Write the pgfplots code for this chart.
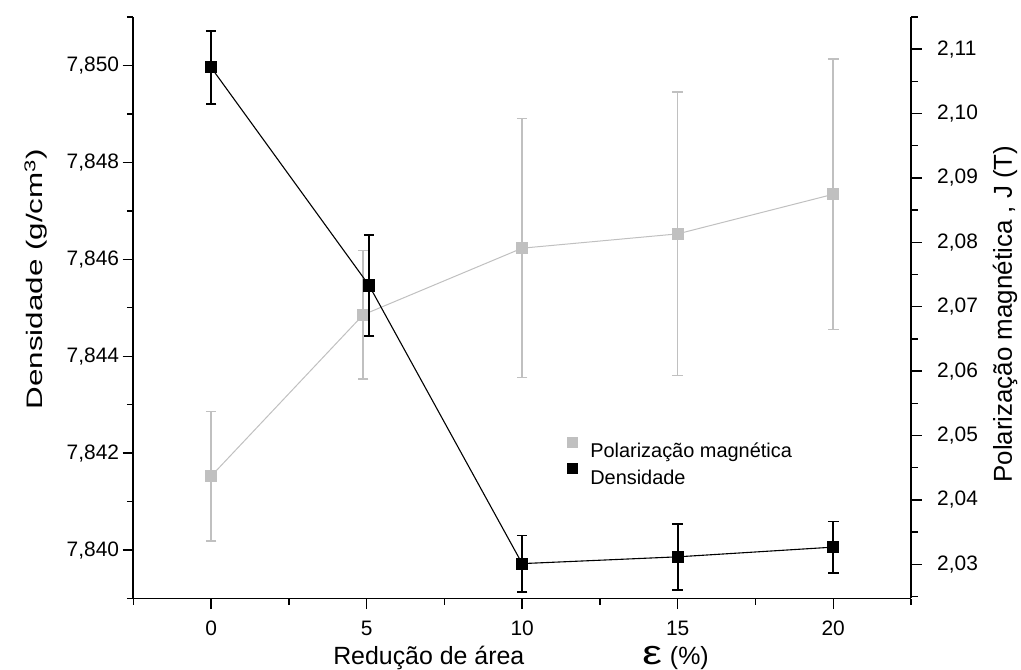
\documentclass[border=0pt]{standalone}
\usepackage{fontspec}
\setmainfont{Liberation Sans}
\usepackage{graphicx}
\usepackage{pgfplots}
\pgfplotsset{compat=1.18}

\definecolor{pgray}{RGB}{192,192,192}

\pgfplotsset{
  common/.style={
    scale only axis, width=777.7bp, height=581.5bp,
    at={(133.3bp,71.5bp)}, anchor=south west,
    xmin=-2.5, xmax=22.5,
    tick align=outside,
    major tick length=10.7bp, minor tick length=6.5bp,
    every tick/.style={black, line width=1.4bp},
    axis line style={black, line width=1.8bp},
    tick label style={font=\fontsize{21}{25}\selectfont},
    /pgf/number format/assume math mode=true,
    scaled y ticks=false,
  }
}

\begin{document}
\begin{tikzpicture}
\useasboundingbox (0,0) rectangle (1021bp,670bp);

% right axis: magnetic polarization
\begin{axis}[common,
  axis x line=none, axis y line*=right,
  ymin=2.0247, ymax=2.115,
  ytick={2.03,2.04,2.05,2.06,2.07,2.08,2.09,2.10,2.11},
  minor ytick={2.025,2.035,2.045,2.055,2.065,2.075,2.085,2.095,2.105,2.115},
  yticklabel style={xshift=12bp, /pgf/number format/fixed, /pgf/number format/fixed zerofill,
    /pgf/number format/precision=2, /pgf/number format/use comma},
  ylabel={Polarização magnética , J (T)},
  ylabel style={at={(axis description cs:1.1209,0.489)}, anchor=center,
    font=\fontsize{26}{30}\selectfont},
  legend style={at={(axis description cs:0.5573,0.2786)}, anchor=north west,
    draw=none, fill=none, inner sep=0pt, row sep=1bp, column sep=13bp,
    font=\fontsize{20}{24}\selectfont,
    nodes={inner sep=0pt, text height=15bp, text depth=5bp}},
  legend cell align=left,
]
\addplot[forget plot, pgray, line width=1bp, mark=square*, mark size=5.5bp,
  mark options={pgray},
  error bars/.cd, y dir=both, y explicit,
  error bar style={line width=1.5bp, pgray},
  error mark options={rotate=90, mark size=5.3bp, line width=1.5bp, pgray}]
  coordinates {
  (0,2.04369) +- (0,0.01003)
  (4.89,2.06876) +- (0,0.0100)
  (10,2.07910) +- (0,0.0201)
  (15,2.08132) +- (0,0.0220)
  (20,2.08747) +- (0,0.0210)
};
\addlegendimage{legend image code/.code={\fill[pgray] (0bp,5.5bp) rectangle (10bp,15.5bp);}}
\addlegendentry{Polarização magnética}
\addlegendimage{legend image code/.code={\fill[black] (0bp,5.5bp) rectangle (10bp,15.5bp);}}
\addlegendentry{Densidade}
\end{axis}

% left axis: density
\begin{axis}[common,
  axis x line*=bottom, axis y line*=left,
  ymin=7.839, ymax=7.851,
  xtick={0,5,10,15,20},
  minor xtick={-2.5,2.5,7.5,12.5,17.5,22.5},
  ytick={7.840,7.842,7.844,7.846,7.848,7.850},
  minor ytick={7.839,7.841,7.843,7.845,7.847,7.849,7.851},
  xticklabel style={yshift=-8bp},
  yticklabel style={/pgf/number format/fixed, /pgf/number format/fixed zerofill,
    /pgf/number format/precision=3, /pgf/number format/use comma},
  xlabel={\fontsize{25}{30}\selectfont Redução de área\hspace{118bp}\scalebox{1.3}[1]{\fontsize{34}{34}\selectfont ε}\hspace{8bp}(\%)},
  xlabel style={at={(axis description cs:0.4985,0)}, anchor=base, yshift=-66bp},
  ylabel={\scalebox{1.4}[1]{Densidade (g/cm\textsuperscript{3})}},
  ylabel style={at={(axis description cs:-0.1251,0.549)}, anchor=center,
    font=\fontsize{22.5}{27}\selectfont},
]
\addplot[black, line width=1.1bp, mark=square*, mark size=5.5bp,
  mark options={black},
  error bars/.cd, y dir=both, y explicit,
  error bar style={line width=1.8bp, black},
  error mark options={rotate=90, mark size=5.3bp, line width=1.8bp, black}]
  coordinates {
  (0,7.84996) +- (0,0.00075)
  (5.08,7.84546) +- (0,0.00104)
  (10,7.83972) +- (0,0.00058)
  (15,7.83986) +- (0,0.00068)
  (20,7.84006) +- (0,0.00053)
};
\end{axis}
\end{tikzpicture}
\end{document}
